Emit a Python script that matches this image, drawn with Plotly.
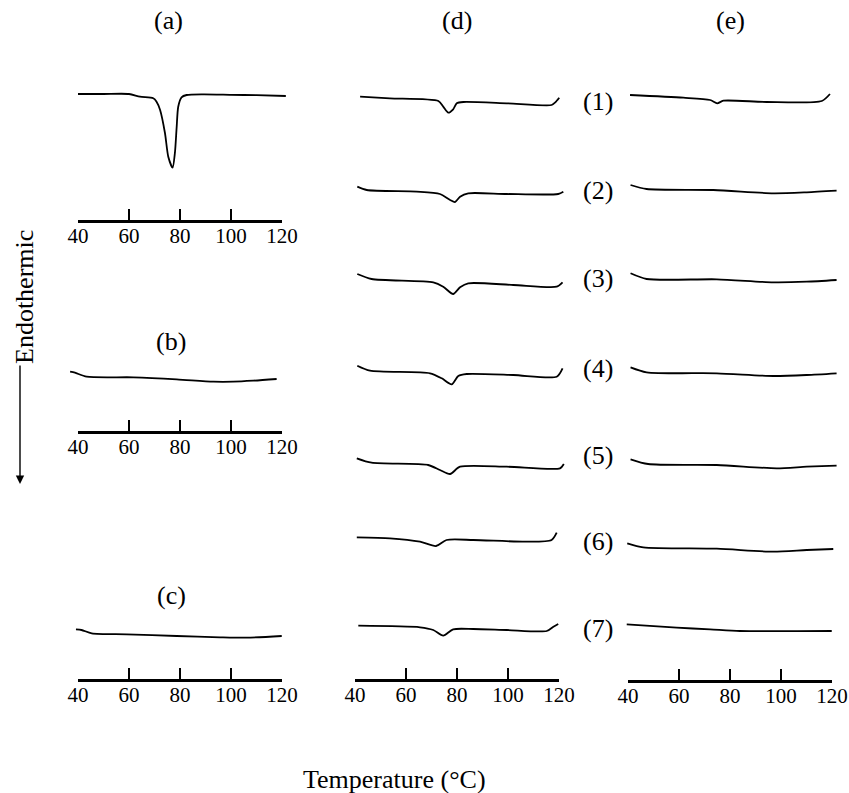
import plotly.graph_objects as go

W, H = 849, 793
FONT = "Liberation Serif, Times New Roman, serif"

# ---------------- data (temperature in degC, DSC signal in arbitrary units) -------------
T_TICKS = [40, 60, 80, 100, 120]
T_LABELS = ["40", "60", "80", "100", "120"]

a_T = [40, 50, 60, 64.3, 69.5, 70.8, 72.2, 74.1, 75.4, 77.1, 78.0, 78.7, 79.3, 80.6, 82.6, 89, 100, 110, 121.5]
a_S = [0, 0, 0, -2.7, -4.3, -7.7, -16, -39, -62.7, -73.7, -59, -32.7, -12.7, -3.3, -1, -0.3, -0.8, -1.2, -2]
b_T = [36.9, 38.8, 43.4, 61.7, 78.7, 93.1, 100.9, 108.7, 117.9]
b_S = [0, -1, -5, -5.6, -7.6, -10, -10, -9, -7.3]
c_T = [39.2, 41.4, 45.4, 59.1, 78.7, 95.7, 106.1, 119.9]
c_S = [0, -0.7, -4, -5, -6.7, -8, -8.4, -6.7]

d1_T = [42, 53.7, 72.7, 74.6, 76.6, 78.5, 79.9, 82.5, 99.5, 117.1, 118.4, 120.1]
d1_S = [0, -1.6, -4.3, -10, -16, -12.6, -6.6, -5.3, -6.6, -8.3, -6, -1]
d2_T = [40.9, 44.6, 64.2, 73.3, 77.3, 79.2, 81.2, 84.4, 99.5, 119.7, 121.7]
d2_S = [0, -3.3, -5, -7.3, -13.3, -15.3, -10, -6.6, -7.3, -7.3, -5]
d3_T = [40.9, 46.5, 70.7, 74.6, 78.5, 81.2, 84.4, 102.1, 119.1, 121.4]
d3_S = [0, -5, -8.3, -12.7, -20, -13.3, -9.3, -11, -12.7, -8.3]
d4_T = [40.9, 45.9, 69.4, 74, 77.9, 80.5, 83.8, 102.1, 119.1, 121.4]
d4_S = [0, -5, -7.6, -12.6, -18.6, -10.3, -8.3, -9.3, -11, -2.6]
d5_T = [40.7, 46.5, 68.7, 73.3, 77.3, 81.2, 99.5, 120.4, 121.9]
d5_S = [0, -4.4, -6.7, -11.7, -15.7, -8.4, -8.4, -10, -5.7]
d6_T = [40.7, 53.7, 65.5, 71.8, 75.9, 86.4, 107.3, 117.1, 119.1]
d6_S = [0, -1, -4.4, -8.7, -2.7, -2.7, -4.4, -2.7, 4.6]
d7_T = [41.3, 65.5, 70.7, 74.6, 78.5, 86.4, 99.5, 115.2, 117.8, 119.7]
d7_S = [0, -1.6, -4.3, -10, -3.6, -3.3, -4.3, -5.3, -1, 1.7]

e1_T = [40.8, 61.7, 72.2, 75, 77.4, 94.4, 116, 119.2]
e1_S = [0, -2.7, -5, -8.3, -5.7, -7, -6, 1]
e2_T = [41, 47.3, 73.5, 97, 110.1, 121.8]
e2_S = [0, -4, -5, -8.3, -7.3, -5.7]
e3_T = [41, 47.3, 74.8, 97, 110.1, 121.8]
e3_S = [0, -5.7, -6, -9, -8.4, -6.7]
e4_T = [41, 47.3, 74.8, 97, 110.1, 121.8]
e4_S = [0, -5, -6, -8.7, -7.7, -6]
e5_T = [41, 47.9, 74.8, 98.3, 110.1, 121.8]
e5_S = [0, -4.7, -5.7, -9, -7.4, -6.4]
e6_T = [39.7, 46, 74.8, 97, 110.1, 120.5]
e6_S = [0, -4, -5.4, -8.4, -6.7, -5.7]
e7_T = [39.5, 59.1, 72.2, 83.9, 119.9]
e7_S = [0, -3.4, -5, -6.7, -6.7]

PANEL_LABELS = ["(a)", "(b)", "(c)", "(d)", "(e)"]
ROW_LABELS = ["(1)", "(2)", "(3)", "(4)", "(5)", "(6)", "(7)"]
X_TITLE = "Temperature (°C)"
Y_TITLE = "Endothermic"

# ---------------- layout geometry (pixels) ----------------
def fx(p):
    return p / W

def fy(p):
    return 1 - p / H

COLS = {"L": (78, 282), "D": (355, 559), "E": (628, 832)}
SCALE = 204 / 80.0
PAD_T = 6  # degC of padding either side of 40-120 for data axes

# curves: (T, S, column, baseline pixel y, lo, hi)
curves = [
    (a_T, a_S, "L", 94, -80, 10),
    (b_T, b_S, "L", 371.7, -25, 12),
    (c_T, c_S, "L", 629.3, -25, 12),
    (d1_T, d1_S, "D", 96.7, -25, 12),
    (d2_T, d2_S, "D", 186.7, -25, 12),
    (d3_T, d3_S, "D", 274, -25, 12),
    (d4_T, d4_S, "D", 365.7, -25, 12),
    (d5_T, d5_S, "D", 458.3, -25, 12),
    (d6_T, d6_S, "D", 537.3, -25, 12),
    (d7_T, d7_S, "D", 625.7, -25, 12),
    (e1_T, e1_S, "E", 95, -25, 12),
    (e2_T, e2_S, "E", 185, -25, 12),
    (e3_T, e3_S, "E", 273.3, -25, 12),
    (e4_T, e4_S, "E", 367.3, -25, 12),
    (e5_T, e5_S, "E", 459.3, -25, 12),
    (e6_T, e6_S, "E", 543.3, -25, 12),
    (e7_T, e7_S, "E", 624.3, -25, 12),
]

# visible temperature axes: (column, axis line pixel y)
vis_axes = [("L", 221), ("L", 432), ("L", 680), ("D", 680), ("E", 681)]

fig = go.Figure()
layout = {}

def xname(i):
    return "xaxis" if i == 1 else f"xaxis{i}"

def yname(i):
    return "yaxis" if i == 1 else f"yaxis{i}"

def xref(i):
    return "x" if i == 1 else f"x{i}"

def yref(i):
    return "y" if i == 1 else f"y{i}"

# data x axes (one per column, slightly wider than 40-120 so curves are not clipped)
data_x = {}
for k, col in enumerate(["L", "D", "E"], start=1):
    p40, p120 = COLS[col]
    layout[xname(k)] = dict(
        domain=[fx(p40 - PAD_T * SCALE), fx(p120 + PAD_T * SCALE)],
        range=[40 - PAD_T, 120 + PAD_T],
        visible=False, anchor="free", position=0, automargin=False,
        showgrid=False, zeroline=False,
    )
    data_x[col] = k

# y axes, one per curve
for j, (T, S, col, base, lo, hi) in enumerate(curves, start=1):
    layout[yname(j)] = dict(
        domain=[fy(base - lo), fy(base - hi)],
        range=[lo, hi],
        visible=False, anchor="free", position=0, automargin=False,
        showgrid=False, zeroline=False,
    )
    fig.add_trace(go.Scatter(
        x=T, y=S, mode="lines",
        line=dict(color="black", width=1.8, shape="spline", smoothing=0.7),
        xaxis=xref(data_x[col]), yaxis=yref(j),
        showlegend=False, hoverinfo="skip",
    ))

# visible temperature axes
for k, (col, ly) in enumerate(vis_axes, start=4):
    p40, p120 = COLS[col]
    layout[xname(k)] = dict(
        domain=[fx(p40), fx(p120)],
        range=[40, 120],
        anchor="free", position=fy(ly), side="bottom", automargin=False,
        tickmode="array", tickvals=T_TICKS, ticktext=T_LABELS,
        ticks="inside", ticklen=11, tickwidth=2, tickcolor="black",
        showline=True, linewidth=2.5, linecolor="black",
        showgrid=False, zeroline=False,
        tickfont=dict(family=FONT, size=21, color="black"),
        ticklabelstandoff=-5,
    )
    fig.add_trace(go.Scatter(
        x=[40, 120], y=[None, None], mode="lines",
        xaxis=xref(k), yaxis="y", showlegend=False, hoverinfo="skip",
    ))

annotations = []
def label(text, x, y, size=26, angle=0):
    annotations.append(dict(
        text=text, x=fx(x), y=fy(y), xref="paper", yref="paper",
        showarrow=False, xanchor="center", yanchor="middle",
        textangle=angle, font=dict(family=FONT, size=size, color="black"),
    ))

for t, (x, y) in zip(PANEL_LABELS, [(168, 20), (171, 342), (171, 595), (457, 20), (730, 20)]):
    label(t, x, y)
for t, y in zip(ROW_LABELS, [102, 190, 278, 368, 455, 541, 628]):
    label(t, 598, y)
label(X_TITLE, 394, 779)
label(Y_TITLE, 24, 297, angle=-90)

# endothermic arrow
annotations.append(dict(
    x=fx(20), y=fy(484), xref="paper", yref="paper",
    ax=0, ay=-120, axref="pixel", ayref="pixel",
    showarrow=True, arrowhead=2, arrowsize=1.2, arrowwidth=1.4,
    arrowcolor="black", text="",
))

fig.update_layout(
    width=W, height=H,
    margin=dict(l=0, r=0, t=0, b=0, autoexpand=False),
    paper_bgcolor="white", plot_bgcolor="rgba(0,0,0,0)",
    showlegend=False,
    hovermode=False,
    annotations=annotations,
    **layout,
)

fig.write_html(
    "out.html",
    config={"displayModeBar": False, "staticPlot": True},
    post_script="document.body.style.margin='0';document.body.style.overflow='hidden';",
)
